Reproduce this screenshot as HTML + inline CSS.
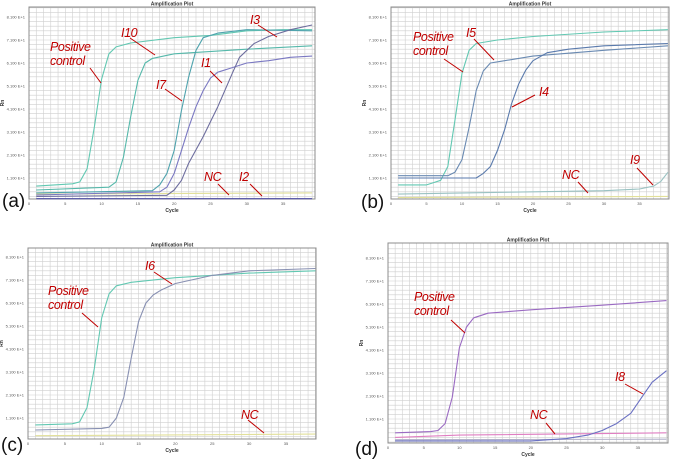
<!DOCTYPE html>
<html><head><meta charset="utf-8"><style>
html,body{margin:0;padding:0;background:#fff;width:677px;height:460px;overflow:hidden}
svg{display:block}
.lab{font-family:"Liberation Sans",sans-serif;font-style:italic;font-size:12.5px;fill:#c00000;letter-spacing:-0.4px}
.pl{font-family:"Liberation Sans",sans-serif;font-size:19px;fill:#111}
.tk{font-family:"Liberation Sans",sans-serif;font-size:4px;fill:#555}
.tt{font-family:"Liberation Sans",sans-serif;font-size:5px;font-weight:bold;fill:#333}
</style></head><body>
<svg id="fig" width="677" height="460" viewBox="0 0 677 460"></svg>
<script>
// ---- shared data ----
var yTickValues = [1.1,2.1,3.1,4.1,5.1,6.1,7.1,8.1];
var yTickLabels = ["1.100 E+1","2.100 E+1","3.100 E+1","4.100 E+1","5.100 E+1","6.100 E+1","7.100 E+1","8.100 E+1"];
var xTickValues = [0,5,10,15,20,25,30,35];

// ---- panel a series ----
var aPosC = [1,6,7,8,9,10,11,12,14,20,25,30,35,39];
var aPosV = [0.75,0.85,0.93,1.5,3.3,5.4,6.5,6.8,6.97,7.2,7.3,7.5,7.55,7.55];
var aI10C = [1,11,12,13,14,15,16,17,20,30,39];
var aI10V = [0.58,0.7,0.93,2.0,3.75,5.35,6.1,6.3,6.5,6.7,6.85];
var aI7C = [1,17,18,19,20,21,22,23,24,26,30,39];
var aI7V = [0.45,0.55,0.8,1.3,2.3,4.05,5.5,6.65,7.2,7.4,7.55,7.5];
var aI1C = [1,18,19,20,21,22,23,24,25,26,28,30,33,36,39];
var aI1V = [0.36,0.5,0.7,1.3,2.3,3.3,4.2,4.9,5.45,5.7,5.9,6.1,6.2,6.35,6.4];
var aI3C = [1,19,20,21,22,24,26,28,29,31,33,36,39];
var aI3V = [0.3,0.35,0.58,1.0,1.75,2.9,4.2,5.65,6.35,6.95,7.25,7.55,7.75];
var aNCC = [1,39];
var aNCV = [0.4,0.45];
var aI2C = [1,39];
var aI2V = [0.2,0.2];

// ---- panel b series ----
var bPosC = [1,5,6,7,8,9,10,11,12,15,20,30,39];
var bPosV = [0.8,0.8,0.9,1.0,1.6,3.6,5.65,6.65,6.95,7.1,7.25,7.45,7.55];
var bI5C = [1,8,9,10,11,12,13,14,16,20,30,39];
var bI5V = [1.2,1.2,1.35,1.9,3.3,4.9,5.75,6.1,6.2,6.4,6.65,6.85];
var bI4C = [1,12,13,14,15,16,17,18,19,20,22,25,30,39];
var bI4V = [1.1,1.1,1.3,1.6,2.3,3.2,4.35,5.2,5.8,6.2,6.55,6.7,6.85,6.95];
var bI9C = [1,20,30,35,37,38,39];
var bI9V = [0.4,0.5,0.55,0.62,0.75,0.95,1.35];
var bNCC = [1,39];
var bNCV = [0.25,0.3];

// ---- panel c series ----
var cPosC = [1,6,7,8,9,10,11,12,14,20,30,39];
var cPosV = [0.8,0.85,0.93,1.55,3.25,5.45,6.5,6.85,7.0,7.2,7.4,7.5];
var cI6C = [1,10,11,12,13,14,15,16,17,18,20,25,30,39];
var cI6V = [0.58,0.65,0.7,1.1,2.0,3.7,5.3,6.1,6.45,6.65,6.95,7.3,7.5,7.6];
var cNCC = [1,39];
var cNCV = [0.33,0.4];

// ---- panel d series ----
var dPosC = [1,6,7,8,9,10,11,12,14,20,30,39];
var dPosV = [0.5,0.55,0.6,0.9,2.05,4.2,5.1,5.5,5.7,5.85,6.05,6.25];
var dI8C = [1,20,25,28,30,32,34,36,37,39];
var dI8V = [0.15,0.15,0.25,0.4,0.6,0.9,1.35,2.25,2.7,3.2];
var dNCC = [1,10,39];
var dNCV = [0.3,0.4,0.5];
var dBgC = [1,39];
var dBgV = [0.2,0.22];

var NS = "http://www.w3.org/2000/svg";
var fig = document.getElementById('fig');
function mk(tag, attrs, parent){
  var e = document.createElementNS(NS, tag);
  for (var k in attrs) e.setAttribute(k, attrs[k]);
  (parent||fig).appendChild(e);
  return e;
}

function panel(p){
  var g = mk('g', {});
  
  
  var xs = function(c){ return p.x0 + c * p.xk; };
  var ys = function(v){ return p.y11 - (v - 1.1) * p.yk; };
  var cMax = (p.right - p.x0) / p.xk;
  // grid
  var grid = mk('g', {stroke:'#cfcfcf','stroke-width':0.6}, g);
  
  
  for (var c = 1; c < cMax; c++) mk('line', {x1:xs(c), x2:xs(c), y1:p.top, y2:p.bottom}, grid);
  for (var v = 0.1; v < 8.6; v += 0.2) { var yy = ys(v); if (yy > p.top && yy < p.bottom) mk('line', {x1:p.x0, x2:p.right, y1:yy, y2:yy}, grid); }
  var fr = mk('rect', {x:p.x0, y:p.top, width:p.right-p.x0, height:p.bottom-p.top, fill:'none', stroke:'#8c8c8c', 'stroke-width':1}, g);
  
  
  // title
  var t = mk('text', {x:(p.x0+p.right)/2, y:p.top-1.5, 'text-anchor':'middle', class:'tt'}, g);
  t.textContent = 'Amplification Plot';
  
  
  // y ticks
  for (var i = 0; i < yTickValues.length; i++) {
    var tl = mk('text', {x:p.x0-4, y:ys(yTickValues[i])+1.5, 'text-anchor':'end', class:'tk'}, g);
    tl.textContent = yTickLabels[i];
    
    
  }
  for (var j = 0; j < xTickValues.length; j++) {
    var xl = mk('text', {x:xs(xTickValues[j]), y:p.bottom+6, 'text-anchor':'middle', class:'tk'}, g);
    xl.textContent = String(xTickValues[j]);
    
    
  }
  var xt = mk('text', {x:(p.x0+p.right)/2, y:p.bottom+13, 'text-anchor':'middle', class:'tt'}, g);
  xt.textContent = 'Cycle';
  
  
  var yt = mk('text', {x:p.x0-25, y:(p.top+p.bottom)/2, 'text-anchor':'middle', class:'tt', transform:'rotate(-90 '+(p.x0-25)+' '+((p.top+p.bottom)/2)+')'}, g);
  yt.textContent = 'Rn';
  
  
  // series
  p.series.forEach(function(s){
    var pts = [];
    for (var k = 0; k < s.c.length; k++) pts.push(xs(s.c[k]).toFixed(1) + ',' + ys(s.v[k]).toFixed(1));
    var pl = mk('polyline', {points:pts.join(' '), fill:'none', stroke:s.col, 'stroke-width':1.1, 'stroke-linejoin':'round'}, g);
    
    
  });
  // annotations
  p.labels.forEach(function(l){
    var ln = mk('line', {x1:l.lx1, y1:l.ly1, x2:l.lx2, y2:l.ly2, stroke:'#c00000', 'stroke-width':1}, g);
    
    
    l.lines.forEach(function(txt, idx){
      var tx = mk('text', {x:l.x, y:l.y + idx*14, class:'lab'}, g);
      tx.textContent = txt;
      
      
    });
  });
  var pn = mk('text', {x:p.plx, y:p.ply, class:'pl'}, g);
  pn.textContent = '(' + p.id + ')';
  
  
}

panel({id:'a', x0:29, xk:7.26, y11:178, yk:23, top:7, bottom:199, right:315, plx:2, ply:207,
  series:[
    {name:'nc', c:aNCC, v:aNCV, col:'#e2e09a'},
    {name:'i2', c:aI2C, v:aI2V, col:'#4a4aa0'},
    {name:'positive-control', c:aPosC, v:aPosV, col:'#62c8b2'},
    {name:'i10', c:aI10C, v:aI10V, col:'#55b8aa'},
    {name:'i7', c:aI7C, v:aI7V, col:'#4fa3ad'},
    {name:'i1', c:aI1C, v:aI1V, col:'#7a78c2'},
    {name:'i3', c:aI3C, v:aI3V, col:'#6d6d9e'}],
  labels:[
    {name:'positive-control', lines:['Positive','control'], x:50, y:51, lx1:90, ly1:68, lx2:101, ly2:83},
    {name:'i10', lines:['I10'], x:121, y:37, lx1:130, ly1:38, lx2:155, ly2:55},
    {name:'i3', lines:['I3'], x:250, y:24, lx1:258, ly1:25, lx2:277, ly2:37},
    {name:'i1', lines:['I1'], x:201, y:67, lx1:210, ly1:71, lx2:222, ly2:83},
    {name:'i7', lines:['I7'], x:156, y:89, lx1:165, ly1:89, lx2:182, ly2:101},
    {name:'nc', lines:['NC'], x:204, y:181, lx1:218, ly1:184, lx2:229, ly2:195},
    {name:'i2', lines:['I2'], x:239, y:181, lx1:250, ly1:184, lx2:262, ly2:196}]
});

panel({id:'b', x0:391, xk:7.1, y11:178, yk:23, top:7, bottom:199, right:669, plx:361, ply:208,
  series:[
    {name:'nc', c:bNCC, v:bNCV, col:'#e2e09a'},
    {name:'i9', c:bI9C, v:bI9V, col:'#9ac2c2'},
    {name:'positive-control', c:bPosC, v:bPosV, col:'#62c8b2'},
    {name:'i5', c:bI5C, v:bI5V, col:'#6a8ab2'},
    {name:'i4', c:bI4C, v:bI4V, col:'#5a7aac'}],
  labels:[
    {name:'positive-control', lines:['Positive','control'], x:413, y:41, lx1:444, ly1:59, lx2:463, ly2:72},
    {name:'i5', lines:['I5'], x:466, y:37, lx1:474, ly1:39, lx2:494, ly2:60},
    {name:'i4', lines:['I4'], x:539, y:96, lx1:535, ly1:95, lx2:512, ly2:107},
    {name:'i9', lines:['I9'], x:630, y:164, lx1:637, ly1:168, lx2:653, ly2:185},
    {name:'nc', lines:['NC'], x:562, y:179, lx1:578, ly1:182, lx2:588, ly2:193}]
});

panel({id:'c', x0:28, xk:7.37, y11:418, yk:23, top:248, bottom:439, right:316, plx:1, ply:451,
  series:[
    {name:'nc', c:cNCC, v:cNCV, col:'#e2e09a'},
    {name:'positive-control', c:cPosC, v:cPosV, col:'#62c8b2'},
    {name:'i6', c:cI6C, v:cI6V, col:'#8890b2'}],
  labels:[
    {name:'positive-control', lines:['Positive','control'], x:48, y:295, lx1:82, ly1:313, lx2:98, ly2:327},
    {name:'i6', lines:['I6'], x:145, y:270, lx1:154, ly1:272, lx2:172, ly2:284},
    {name:'nc', lines:['NC'], x:241, y:419, lx1:248, ly1:420, lx2:264, ly2:433}]
});

panel({id:'d', x0:388, xk:7.14, y11:419, yk:23, top:243, bottom:443, right:668, plx:355, ply:455,
  series:[
    {name:'background', c:dBgC, v:dBgV, col:'#b0b0c8'},
    {name:'nc', c:dNCC, v:dNCV, col:'#e07ec2'},
    {name:'positive-control', c:dPosC, v:dPosV, col:'#9a6ac2'},
    {name:'i8', c:dI8C, v:dI8V, col:'#6a70c2'}],
  labels:[
    {name:'positive-control', lines:['Positive','control'], x:414, y:301, lx1:451, ly1:320, lx2:465, ly2:333},
    {name:'i8', lines:['I8'], x:615, y:381, lx1:625, ly1:384, lx2:643, ly2:394},
    {name:'nc', lines:['NC'], x:530, y:419, lx1:546, ly1:423, lx2:555, ly2:434}]
});
</script>
</body></html>
